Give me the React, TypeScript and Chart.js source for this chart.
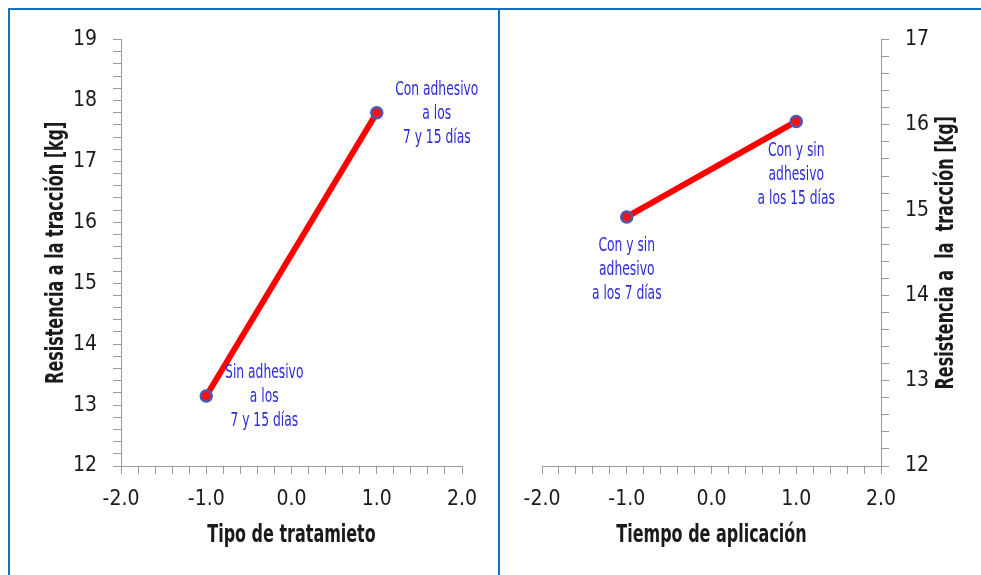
import React, { useEffect, useRef } from 'react';
import { Chart, registerables } from 'chart.js';
Chart.register(...registerables);

// ---------- data ----------
const xLevels = [-1, 1];
const leftValues = [13.15, 17.8];
const rightValues = [14.92, 16.04];
const xRange = [-2, 2];
const leftYRange = [12, 19];
const rightYRange = [12, 17];
const leftLabels = [
  ['Sin adhesivo', 'a los', '7 y 15 días'],
  ['Con adhesivo', 'a los', '7 y 15 días'],
];
const rightLabels = [
  ['Con y sin', 'adhesivo', 'a los 7 días'],
  ['Con y sin', 'adhesivo', 'a los 15 días'],
];
const leftXTitle = 'Tipo de tratamieto';
const rightXTitle = 'Tiempo de aplicación';
const leftYTitle = 'Resistencia a la tracción [kg]';
const rightYTitle = 'Resistencia a  la  tracción [kg]';

// label offsets (pixels from the point to the first text line centre)
const leftLabelOffsets = [[58, -23], [60, -23]];
const rightLabelOffsets = [[0, 29], [0, 30]];

const FONT = "'Liberation Sans Narrow', 'Arial Narrow', 'DejaVu Sans Condensed', sans-serif";
const AXIS_COLOR = '#9a9a9a';
const TEXT_COLOR = '#1a1a1a';
const LABEL_COLOR = '#2b2bd8';
const BORDER_BLUE = '#1670c2';
const SQUEEZE = 0.74;

const isInt = (v: number) => Math.abs(v - Math.round(v)) < 1e-6;

function squeezedText(ctx: any, text: string, x: number, y: number, rot: number, sx: number) {
  ctx.save();
  ctx.translate(x, y);
  ctx.rotate(rot);
  ctx.scale(sx, 1);
  ctx.fillText(text, 0, 0);
  ctx.restore();
}

function pointLabelsPlugin(labels: string[][], offsets: number[][]) {
  return {
    id: 'pointLabels',
    afterDatasetsDraw(chart: any) {
      const ctx = chart.ctx;
      const meta = chart.getDatasetMeta(0);
      ctx.save();
      ctx.font = `19px ${FONT}`;
      ctx.fillStyle = LABEL_COLOR;
      ctx.textAlign = 'center';
      ctx.textBaseline = 'middle';
      meta.data.forEach((pt: any, i: number) => {
        const [dx, dy] = offsets[i];
        labels[i].forEach((line, j) => {
          squeezedText(ctx, line, pt.x + dx, pt.y + dy + j * 24, 0, 0.72);
        });
      });
      ctx.restore();
    },
  };
}

function titlesPlugin(xTitle: string, yTitle: string, yTitleX: number) {
  return {
    id: 'axisTitles',
    afterDraw(chart: any) {
      const ctx = chart.ctx;
      const area = chart.chartArea;
      ctx.save();
      ctx.font = `bold 24px ${FONT}`;
      ctx.fillStyle = TEXT_COLOR;
      ctx.textAlign = 'center';
      ctx.textBaseline = 'middle';
      squeezedText(ctx, xTitle, (area.left + area.right) / 2, area.bottom + 70, 0, SQUEEZE);
      squeezedText(ctx, yTitle, yTitleX, (area.top + area.bottom) / 2, -Math.PI / 2, SQUEEZE);
      ctx.restore();
    },
  };
}

function makeConfig(side: 'left' | 'right') {
  const values = side === 'left' ? leftValues : rightValues;
  const yRange = side === 'left' ? leftYRange : rightYRange;
  const data = xLevels.map((x, i) => ({ x, y: values[i] }));
  const plugins: any[] = [
    pointLabelsPlugin(side === 'left' ? leftLabels : rightLabels, side === 'left' ? leftLabelOffsets : rightLabelOffsets),
    side === 'left' ? titlesPlugin(leftXTitle, leftYTitle, 46) : titlesPlugin(rightXTitle, rightYTitle, 446),
  ];
  const tickFont = { family: FONT, size: 21 };
  return {
    type: 'line',
    data: {
      datasets: [
        {
          data,
          borderColor: '#ff0000',
          borderWidth: 6,
          pointRadius: 5.5,
          pointBorderWidth: 2.5,
          pointBackgroundColor: '#ff1010',
          pointBorderColor: '#4a58b0',
          tension: 0,
        },
      ],
    },
    options: {
      animation: false,
      responsive: false,
      devicePixelRatio: 1,
      events: [],
      layout: {
        padding: side === 'left'
          ? { left: 0, top: 25, right: 35, bottom: 9 }
          : { left: 41, top: 25, right: 0, bottom: 9 },
      },
      plugins: { legend: { display: false }, tooltip: { enabled: false } },
      scales: {
        x: {
          type: 'linear',
          min: xRange[0],
          max: xRange[1],
          afterFit: (s: any) => { s.height = 100; },
          ticks: {
            stepSize: 0.2,
            autoSkip: false,
            maxRotation: 0,
            padding: 13,
            color: TEXT_COLOR,
            font: tickFont,
            callback: (v: any) => (isInt(v) ? Number(v).toFixed(1) : ''),
          },
          grid: { drawOnChartArea: false, drawTicks: true, tickLength: 8, color: AXIS_COLOR, tickColor: AXIS_COLOR },
          border: { display: true, color: AXIS_COLOR, width: 1 },
        },
        y: {
          type: 'linear',
          position: side,
          min: yRange[0],
          max: yRange[1],
          afterFit: (s: any) => { s.width = side === 'left' ? 110 : 100; },
          ticks: {
            stepSize: 0.2,
            autoSkip: false,
            padding: 16,
            color: TEXT_COLOR,
            font: tickFont,
            callback: (v: any) => (isInt(v) ? String(Math.round(Number(v))) : ''),
          },
          grid: { drawOnChartArea: false, drawTicks: true, tickLength: 8, color: AXIS_COLOR, tickColor: AXIS_COLOR },
          border: { display: true, color: AXIS_COLOR, width: 1 },
        },
      },
    },
    plugins,
  };
}

function Panel({ side, left, width }: { side: 'left' | 'right'; left: number; width: number }) {
  const ref = useRef<HTMLCanvasElement | null>(null);
  useEffect(() => {
    if (!ref.current) return;
    const chart = new Chart(ref.current, makeConfig(side) as any);
    return () => chart.destroy();
  }, [side]);
  return (
    <canvas
      ref={ref}
      width={width}
      height={564}
      style={{ position: 'absolute', left, top: 11, width, height: 564 }}
    />
  );
}

export default function App() {
  return (
    <div style={{ position: 'absolute', left: 0, top: 0, width: 981, height: 575, overflow: 'hidden', background: '#fff' }}>
      <div
        style={{
          position: 'absolute', left: 8, top: 8, width: 492, height: 567, boxSizing: 'border-box',
          borderTop: `2px solid ${BORDER_BLUE}`, borderLeft: `2px solid ${BORDER_BLUE}`, borderRight: `2px solid ${BORDER_BLUE}`,
        }}
      />
      <div
        style={{
          position: 'absolute', left: 500, top: 8, width: 481, height: 567, boxSizing: 'border-box',
          borderTop: `2px solid ${BORDER_BLUE}`,
        }}
      />
      <Panel side="left" left={11} width={486} />
      <Panel side="right" left={501} width={480} />
    </div>
  );
}
